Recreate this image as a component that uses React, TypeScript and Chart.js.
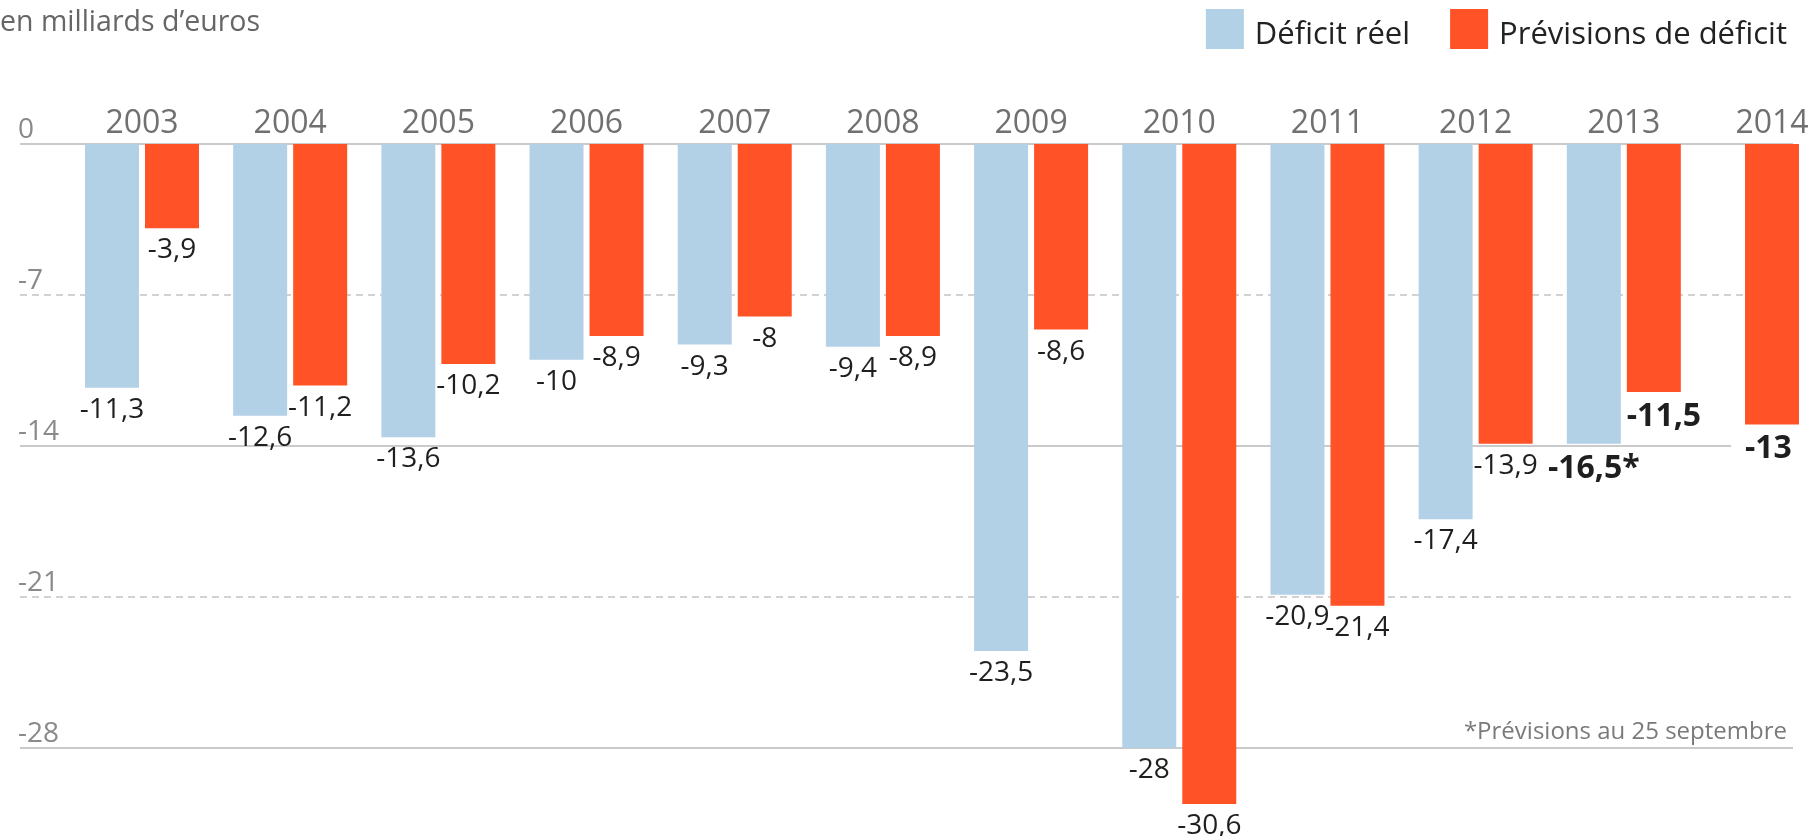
import React, { useEffect, useRef } from 'react';
import { Chart, registerables } from 'chart.js';

Chart.register(...registerables);

const YEARS = ['2003', '2004', '2005', '2006', '2007', '2008', '2009', '2010', '2011', '2012', '2013', '2014'];
const DEFICIT_REEL = [-11.3, -12.6, -13.6, -10, -9.3, -9.4, -23.5, -28, -20.9, -17.4, -13.9, null];
const PREVISIONS = [-3.9, -11.2, -10.2, -8.9, -8, -8.9, -8.6, -30.6, -21.4, -13.9, -11.5, -13];
const REEL_LABELS = ['-11,3', '-12,6', '-13,6', '-10', '-9,3', '-9,4', '-23,5', '-28', '-20,9', '-17,4', '-16,5*', ''];
const PREV_LABELS = ['-3,9', '-11,2', '-10,2', '-8,9', '-8', '-8,9', '-8,6', '-30,6', '-21,4', '-13,9', '-11,5', '-13'];
const HIGHLIGHT_YEARS = ['2013', '2014'];
const Y_TICKS = [0, -7, -14, -21, -28];
const SERIES_NAMES = ['Déficit réel', 'Prévisions de déficit'];
const COLORS = ['#b3d1e6', '#ff5227'];
const UNIT_LABEL = 'en milliards d\u2019euros';
const FOOTNOTE = '*Prévisions au 25 septembre';

const FONT = "'Open Sans', 'Noto Sans', sans-serif";

function labelLayout(chart: any, ctx: any, di: number, j: number, el: any) {
  const bold = HIGHLIGHT_YEARS.includes(YEARS[j]);
  const texts = di === 0 ? REEL_LABELS : PREV_LABELS;
  const text = texts[j];
  ctx.font = bold ? `bold 32px ${FONT}` : `28px ${FONT}`;
  const w = ctx.measureText(text).width;
  const yb = el.y + (bold ? 34 : 30);
  let left = el.x - w / 2;
  if (bold && di === 1) left = el.x - el.width / 2;
  return { text, bold, w, yb, left };
}

const decorPlugin = {
  id: 'decor',
  beforeDatasetsDraw(chart: any) {
    const { ctx } = chart;
    const y = chart.scales.y;
    ctx.save();
    Y_TICKS.forEach((v) => {
      const py = Math.round(y.getPixelForValue(v));
      const dashed = v % 14 !== 0;
      ctx.beginPath();
      ctx.setLineDash(dashed ? [7, 5] : []);
      ctx.strokeStyle = dashed ? '#c4c4c4' : '#cacaca';
      ctx.lineWidth = dashed ? 1.5 : 2;
      ctx.moveTo(20, py);
      ctx.lineTo(1793, py);
      ctx.stroke();
      ctx.setLineDash([]);
      ctx.fillStyle = '#8a8a8a';
      ctx.font = `28px ${FONT}`;
      ctx.textAlign = 'left';
      ctx.textBaseline = 'alphabetic';
      ctx.fillText(String(v), 18, py - 6.5);
    });
    // white halos behind highlighted labels (cut the grid lines only)
    chart.data.datasets.forEach((ds: any, di: number) => {
      const meta = chart.getDatasetMeta(di);
      meta.data.forEach((el: any, j: number) => {
        if (ds.data[j] == null) return;
        const L = labelLayout(chart, ctx, di, j, el);
        if (!L.bold) return;
        ctx.fillStyle = '#ffffff';
        ctx.fillRect(L.left - 14, L.yb - 26, L.w + 28, 30);
      });
    });
    ctx.restore();
  },
  afterDatasetsDraw(chart: any) {
    const { ctx } = chart;
    ctx.save();
    ctx.textBaseline = 'alphabetic';
    chart.data.datasets.forEach((ds: any, di: number) => {
      const meta = chart.getDatasetMeta(di);
      meta.data.forEach((el: any, j: number) => {
        if (ds.data[j] == null) return;
        const L = labelLayout(chart, ctx, di, j, el);
        ctx.fillStyle = '#1f1f1f';
        ctx.textAlign = 'left';
        ctx.fillText(L.text, L.left, L.yb);
      });
    });
    ctx.restore();
  },
  afterDraw(chart: any) {
    const { ctx } = chart;
    ctx.save();
    ctx.textBaseline = 'alphabetic';
    // unit label
    ctx.font = `28.5px ${FONT}`;
    ctx.fillStyle = '#666666';
    ctx.textAlign = 'left';
    ctx.fillText(UNIT_LABEL, 0, 31);
    // legend
    ctx.font = `31px ${FONT}`;
    let x = 1787;
    const boxW = 38;
    const boxH = 40;
    const ds = chart.data.datasets;
    for (let i = ds.length - 1; i >= 0; i--) {
      const text = ds[i].label;
      const w = ctx.measureText(text).width;
      const tx = x - w;
      ctx.fillStyle = '#222222';
      ctx.textAlign = 'left';
      ctx.fillText(text, tx, 44);
      const bx = tx - 11 - boxW;
      ctx.fillStyle = ds[i].backgroundColor;
      ctx.fillRect(bx, 9, boxW, boxH);
      x = bx - 40;
    }
    // footnote
    ctx.font = `24px ${FONT}`;
    ctx.fillStyle = '#7a7a7a';
    ctx.textAlign = 'right';
    ctx.fillText(FOOTNOTE, 1787, 739);
    ctx.restore();
  },
};

const barOpts = {
  barPercentage: 0.9,
  categoryPercentage: 0.81,
  maxBarThickness: 54,
  skipNull: true,
  clip: false as const,
  borderWidth: 0,
};

export default function App() {
  const ref = useRef<HTMLCanvasElement | null>(null);
  useEffect(() => {
    if (!ref.current) return;
    const chart = new Chart(ref.current, {
      type: 'bar',
      data: {
        labels: YEARS,
        datasets: [
          { label: SERIES_NAMES[0], data: DEFICIT_REEL, backgroundColor: COLORS[0], ...barOpts } as any,
          { label: SERIES_NAMES[1], data: PREVISIONS, backgroundColor: COLORS[1], ...barOpts } as any,
        ],
      },
      options: {
        animation: false,
        responsive: false,
        layout: { padding: { left: 142, right: 44, top: 0, bottom: 12.5 } },
        plugins: {
          legend: { display: false },
          title: { display: false },
          tooltip: { enabled: false },
        },
        scales: {
          x: {
            position: 'top',
            offset: false,
            grid: { display: false },
            border: { display: false },
            ticks: {
              color: '#707070',
              font: { family: FONT, size: 32 },
              padding: -7,
              maxRotation: 0,
              autoSkip: false,
            },
            afterFit: (s: any) => {
              s.height = 144;
            },
          },
          y: { display: false, min: -31.5, max: 0 },
        },
      },
      plugins: [decorPlugin],
    });
    return () => chart.destroy();
  }, []);
  return (
    <div style={{ position: 'absolute', left: 0, top: 0, width: 1816, height: 836, background: '#fff' }}>
      <canvas ref={ref} width={1816} height={836} style={{ display: 'block' }} />
    </div>
  );
}
